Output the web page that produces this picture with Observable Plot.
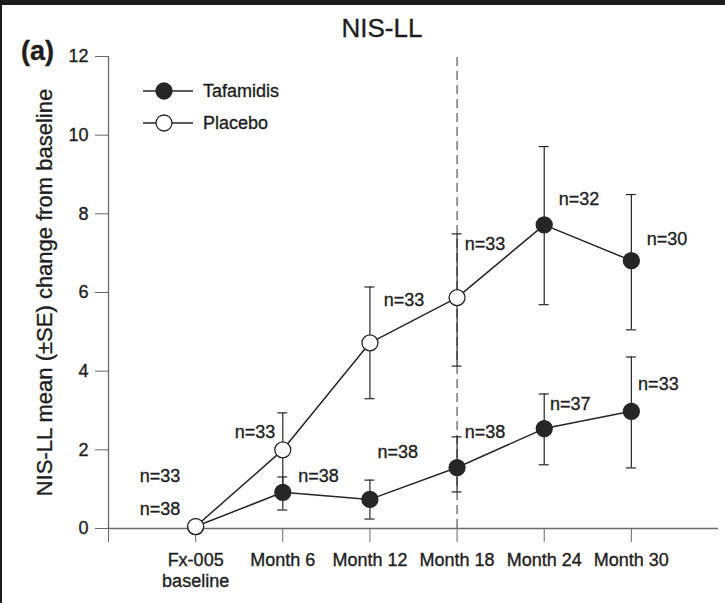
<!DOCTYPE html>
<html>
<head>
<meta charset="utf-8">
<script src="https://cdn.jsdelivr.net/npm/d3@7"></script>
<script src="https://cdn.jsdelivr.net/npm/@observablehq/plot@0.6"></script>
<style>
  html, body { margin: 0; padding: 0; background: #fff; }
  #wrap { position: relative; width: 725px; height: 603px; overflow: hidden; background: #fff;
          font-family: "Liberation Sans", Arial, Helvetica, sans-serif; }
  #wrap > svg { position: absolute; left: 0; top: 0; }
  #wrap svg text { stroke: #1e1e1e; stroke-width: 0.35px; }
  #overlay { position: absolute; left: 0; top: 0; pointer-events: none; }
  .bar-top { position: absolute; left: 0; top: 0; width: 725px; height: 5px; background: #1d1d1d; }
  .bar-left { position: absolute; left: 0; top: 0; width: 2px; height: 603px; background: #1d1d1d; }
</style>
</head>
<body>
<div id="wrap"></div>
<script>
// ---- data ----
const categories = ["Fx-005\nbaseline", "Month 6", "Month 12", "Month 18", "Month 24", "Month 30"];

const tafamidisMean = [0.05, 0.92, 0.74, 1.55, 2.54, 2.98];
const tafamidisHi   = [null, 1.31, 1.23, 2.33, 3.42, 4.36];
const tafamidisLo   = [null, 0.47, 0.24, 0.93, 1.62, 1.54];
const tafamidisN    = ["n=38", "n=38", "n=38", "n=38", "n=37", "n=33"];

const placeboMean = [0.05, 2.00, 4.72, 5.87, 7.72, 6.81];
const placeboHi   = [null, 2.94, 6.14, 7.49, 9.71, 8.49];
const placeboLo   = [null, 1.06, 3.30, 4.13, 5.69, 5.05];
const placeboN    = ["n=33", "n=33", "n=33", "n=33", "n=32", "n=30"];

// placebo patients switched to tafamidis after Month 18 (open-label extension)
const switchCategory = "Month 18";

// label anchor positions (data units: category position, y value)
const tafamidisLabelX = [0.59, 2.41, 3.32, 4.32, 5.30, 6.31];
const tafamidisLabelY = [0.48, 1.32, 1.93, 2.44, 3.15, 3.66];
const placeboLabelX   = [0.59, 1.68, 3.39, 4.32, 5.40, 6.41];
const placeboLabelY   = [1.32, 2.44, 5.80, 7.22, 8.37, 7.35];

const yTicks = [0, 2, 4, 6, 8, 10, 12];
const yLabel = "NIS-LL mean (±SE) change from baseline";
const title = "NIS-LL";
const panel = "(a)";

// ---- build tables ----
const switchPos = categories.indexOf(switchCategory) + 1;
const taf = categories.map((c, i) => ({x: i + 1, y: tafamidisMean[i], hi: tafamidisHi[i], lo: tafamidisLo[i],
  n: tafamidisN[i], lx: tafamidisLabelX[i], ly: tafamidisLabelY[i], open: false}));
const pla = categories.map((c, i) => ({x: i + 1, y: placeboMean[i], hi: placeboHi[i], lo: placeboLo[i],
  n: placeboN[i], lx: placeboLabelX[i], ly: placeboLabelY[i], open: (i + 1) <= switchPos}));
const all = [...taf, ...pla];
const errs = all.filter(d => d.hi != null);

const ink = "#262626";
const axisInk = "#6a6a6a";
const textInk = "#1e1e1e";

const chart = Plot.plot({
  width: 725,
  height: 603,
  marginLeft: 108,
  marginRight: 7,
  marginTop: 56,
  marginBottom: 75,
  style: {fontFamily: '"Liberation Sans", Arial, sans-serif', background: "transparent", color: textInk},
  x: {type: "linear", domain: [0, 7], axis: null},
  y: {domain: [0, 12], axis: null},
  marks: [
    Plot.axisY({ticks: yTicks, tickSize: 13, tickPadding: 7, fontSize: 18, stroke: axisInk, label: null}),
    Plot.axisX({ticks: [0, 1, 2, 3, 4, 5, 6], tickSize: 14, tickPadding: 8, fontSize: 18, stroke: axisInk,
      label: null, lineHeight: 1.2, tickFormat: v => categories[v - 1] ?? ""}),
    Plot.ruleX([0], {y1: 0, y2: 12, stroke: axisInk, strokeWidth: 1.3}),
    Plot.ruleY([0], {x1: 0, x2: 7, stroke: axisInk, strokeWidth: 1.3}),
    Plot.ruleX([switchPos], {y1: 0, y2: 12, stroke: "#555", strokeWidth: 1.2, strokeDasharray: "9,5"}),
    Plot.text([yLabel], {frameAnchor: "left", textAnchor: "middle", rotate: -90, dx: -64, fontSize: 22, fill: textInk}),
    // error bars
    Plot.ruleX(errs, {x: "x", y1: "lo", y2: "hi", stroke: ink, strokeWidth: 1.2}),
    Plot.ruleY(errs, {y: "hi", x1: "x", x2: "x", insetLeft: -5, insetRight: -5, stroke: ink, strokeWidth: 1.2}),
    Plot.ruleY(errs, {y: "lo", x1: "x", x2: "x", insetLeft: -5, insetRight: -5, stroke: ink, strokeWidth: 1.2}),
    // lines
    Plot.line(taf, {x: "x", y: "y", stroke: ink, strokeWidth: 1.5}),
    Plot.line(pla, {x: "x", y: "y", stroke: ink, strokeWidth: 1.5}),
    // markers
    Plot.dot(taf, {x: "x", y: "y", r: 8, fill: ink, stroke: ink, strokeWidth: 1.3}),
    Plot.dot(pla, {x: "x", y: "y", r: 8, fill: d => d.open ? "#fff" : ink, stroke: ink, strokeWidth: 1.3}),
    // n labels
    Plot.text(all, {x: "lx", y: "ly", text: "n", fontSize: 18, fill: textInk})
  ]
});

const wrap = document.getElementById("wrap");
wrap.appendChild(chart);

// overlay: title, panel letter, legend
const ov = d3.select(wrap).append("svg").attr("id", "overlay").attr("width", 725).attr("height", 603)
  .style("font-family", '"Liberation Sans", Arial, sans-serif');
ov.append("text").attr("x", 382).attr("y", 37).attr("text-anchor", "middle").attr("font-size", 26)
  .attr("fill", textInk).text(title);
ov.append("text").attr("x", 21).attr("y", 60).attr("font-size", 27).attr("font-weight", "bold")
  .attr("fill", textInk).text(panel);
const legendItems = [{label: "Tafamidis", open: false}, {label: "Placebo", open: true}];
legendItems.forEach((it, i) => {
  const y = 91 + i * 32;
  ov.append("line").attr("x1", 143).attr("x2", 193).attr("y1", y).attr("y2", y).attr("stroke", ink).attr("stroke-width", 1.5);
  ov.append("circle").attr("cx", 164).attr("cy", y).attr("r", 8).attr("fill", it.open ? "#fff" : ink)
    .attr("stroke", ink).attr("stroke-width", 1.3);
  ov.append("text").attr("x", 203).attr("y", y).attr("dy", "0.35em").attr("font-size", 18).attr("fill", textInk).text(it.label);
});
d3.select(wrap).append("div").attr("class", "bar-top");
d3.select(wrap).append("div").attr("class", "bar-left");
</script>
</body>
</html>
